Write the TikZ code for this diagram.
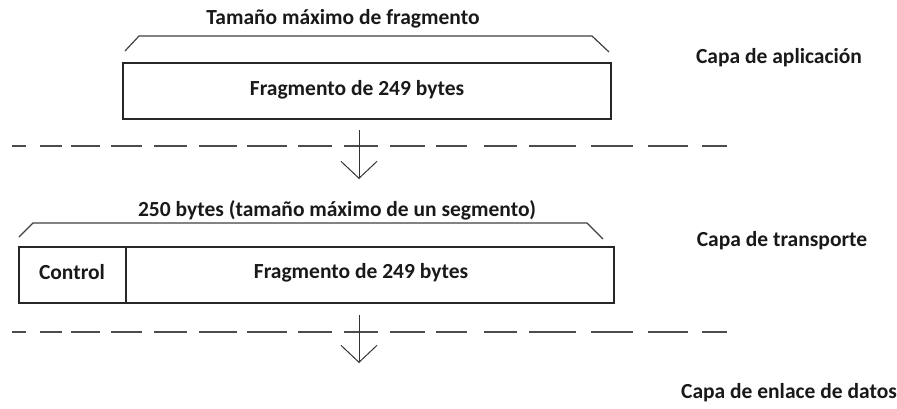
\documentclass[tikz,border=0pt]{standalone}
\usepackage{fontspec}
\setmainfont{Carlito}
\usetikzlibrary{arrows.meta}
\tikzset{
  lbl/.style={font=\fontsize{21.5}{25}\selectfont\bfseries, inner sep=0pt, text=black!90},
  boxx/.style={draw=black!85, line width=1.4pt, inner sep=0pt, minimum height=56pt},
  brk/.style={draw=black!75, line width=1.2pt},
  dsh/.style={draw=black!70, line width=1.8pt},
  flow/.style={draw=black!80, line width=1pt, -{Straight Barb[length=17pt,width=36pt,line width=1pt]}}
}
\begin{document}
\begin{tikzpicture}[x=1pt,y=-1pt]
\useasboundingbox (0,0) rectangle (897,408);
% application layer
\node[lbl] (t1) at (343,19) {Tamaño máximo de fragmento};
\node[boxx, minimum width=488pt] (b1) at (367,91) {};
\node[lbl] (f1) at (357,90) {Fragmento de 249 bytes};
\coordinate (k1a) at (125,51);
\coordinate (k1b) at (139,36);
\coordinate (k1c) at (592,36);
\coordinate (k1d) at (609,52);
\draw[brk] (k1a) -- (k1b) -- (k1c) -- (k1d);
\node[lbl] (l1) at (779,58) {Capa de aplicación};
% first separator
\foreach \a/\b in {12/26,40/62,71/100,111/142,154/187,199/237,247/287,298/332,344/378,390/425,436/467,484/517,529/576,591/633,648/688,702/727}
  \draw[dsh] (\a,146) -- (\b,146);
\coordinate (a1s) at (359,130);
\coordinate (a1e) at (359,179);
\draw[flow] (a1s) -- (a1e);
% transport layer
\node[lbl] (t2) at (337,210) {250 bytes (tamaño máximo de un segmento)};
\node[boxx, minimum width=107pt] (c2) at (72.5,275) {};
\node[boxx, minimum width=488pt] (b2) at (370,275) {};
\node[lbl] (cl) at (72,272) {Control};
\node[lbl] (f2) at (361,273) {Fragmento de 249 bytes};
\coordinate (k2a) at (19,237);
\coordinate (k2b) at (33,223);
\coordinate (k2c) at (587,223);
\coordinate (k2d) at (603,239);
\draw[brk] (k2a) -- (k2b) -- (k2c) -- (k2d);
\node[lbl] (l2) at (782,241) {Capa de transporte};
% second separator
\foreach \a/\b in {12/26,40/62,71/100,111/142,154/187,199/237,247/287,298/332,344/378,390/425,436/467,484/517,529/576,591/633,648/688,702/727}
  \draw[dsh] (\a,332) -- (\b,332);
\coordinate (a2s) at (359,315);
\coordinate (a2e) at (359,363);
\draw[flow] (a2s) -- (a2e);
\node[lbl] (l3) at (789,393) {Capa de enlace de datos};
\end{tikzpicture}
\end{document}
